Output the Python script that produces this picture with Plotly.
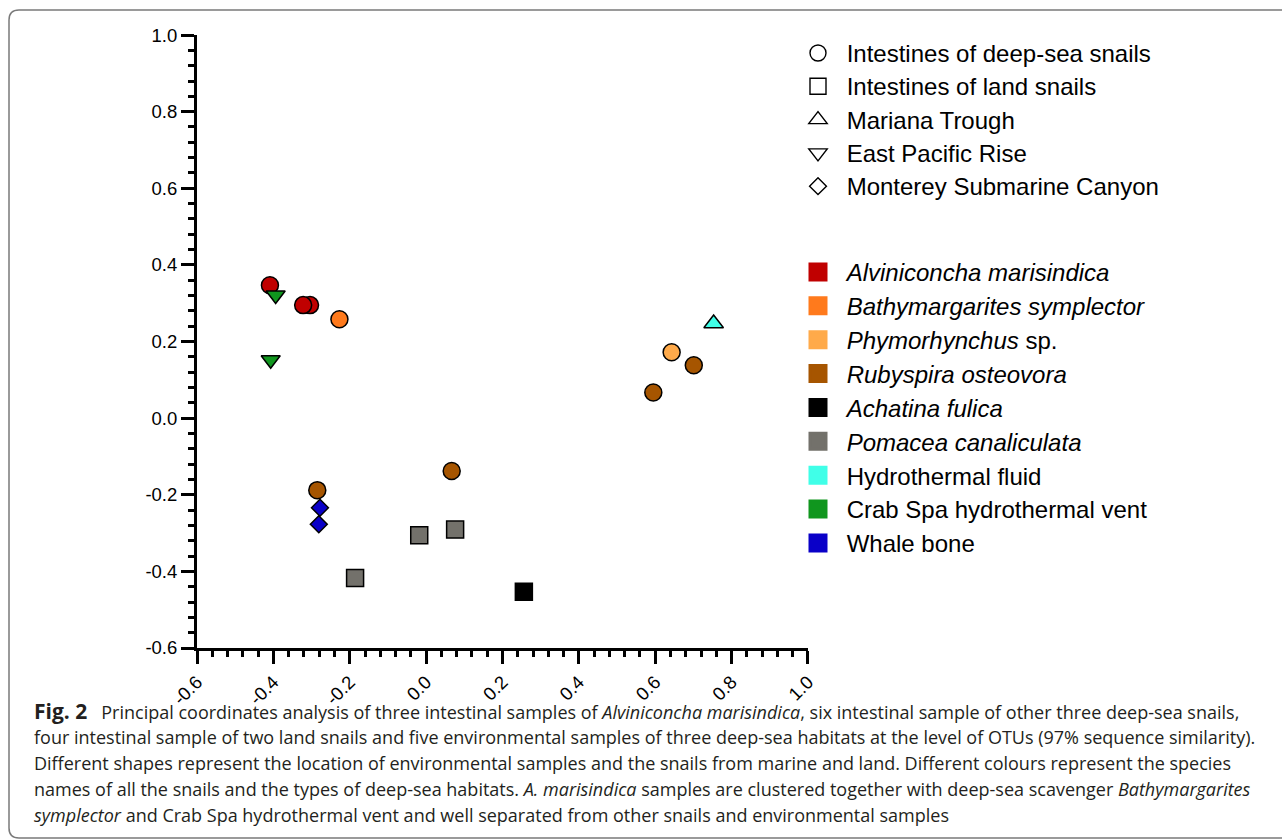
import plotly.graph_objects as go

# ---------------- data ----------------
species = [
    "Alviniconcha marisindica",
    "Bathymargarites symplector",
    "Phymorhynchus sp.",
    "Rubyspira osteovora",
    "Achatina fulica",
    "Pomacea canaliculata",
    "Hydrothermal fluid",
    "Crab Spa hydrothermal vent",
    "Whale bone",
]
species_legend = [
    "<i>Alviniconcha marisindica</i>",
    "<i>Bathymargarites symplector</i>",
    "<i>Phymorhynchus</i> sp.",
    "<i>Rubyspira osteovora</i>",
    "<i>Achatina fulica</i>",
    "<i>Pomacea canaliculata</i>",
    "Hydrothermal fluid",
    "Crab Spa hydrothermal vent",
    "Whale bone",
]
locations = [
    "Intestines of deep-sea snails",
    "Intestines of land snails",
    "Mariana Trough",
    "East Pacific Rise",
    "Monterey Submarine Canyon",
]

sample_species = [
    "Alviniconcha marisindica", "Alviniconcha marisindica", "Alviniconcha marisindica",
    "Bathymargarites symplector",
    "Phymorhynchus sp.",
    "Rubyspira osteovora", "Rubyspira osteovora", "Rubyspira osteovora", "Rubyspira osteovora",
    "Achatina fulica",
    "Pomacea canaliculata", "Pomacea canaliculata", "Pomacea canaliculata",
    "Hydrothermal fluid",
    "Crab Spa hydrothermal vent", "Crab Spa hydrothermal vent",
    "Whale bone", "Whale bone",
]
sample_location = [
    "Intestines of deep-sea snails", "Intestines of deep-sea snails", "Intestines of deep-sea snails",
    "Intestines of deep-sea snails",
    "Intestines of deep-sea snails",
    "Intestines of deep-sea snails", "Intestines of deep-sea snails", "Intestines of deep-sea snails", "Intestines of deep-sea snails",
    "Intestines of land snails",
    "Intestines of land snails", "Intestines of land snails", "Intestines of land snails",
    "Mariana Trough",
    "East Pacific Rise", "East Pacific Rise",
    "Monterey Submarine Canyon", "Monterey Submarine Canyon",
]
pc1 = [-0.409, -0.304, -0.322,
       -0.227,
       0.643,
       -0.285, 0.067, 0.595, 0.701,
       0.256,
       -0.186, -0.018, 0.076,
       0.753,
       -0.394, -0.407,
       -0.278, -0.281]
pc2 = [0.347, 0.295, 0.295,
       0.258,
       0.172,
       -0.188, -0.138, 0.067, 0.138,
       -0.453,
       -0.417, -0.306, -0.291,
       0.247,
       0.321, 0.152,
       -0.234, -0.277]

axis_ticks = [-0.6, -0.4, -0.2, 0.0, 0.2, 0.4, 0.6, 0.8, 1.0]
axis_ticklabels = ["-0.6", "-0.4", "-0.2", "0.0", "0.2", "0.4", "0.6", "0.8", "1.0"]

caption_lines = [
    '<span style="font-size:21px"><b>Fig. 2</b></span>\u00a0\u00a0 Principal coordinates analysis of three intestinal samples of <i>Alviniconcha marisindica</i>, six intestinal sample of other three deep-sea snails,',
    "four intestinal sample of two land snails and five environmental samples of three deep-sea habitats at the level of OTUs (97% sequence similarity).",
    "Different shapes represent the location of environmental samples and the snails from marine and land. Different colours represent the species",
    "names of all the snails and the types of deep-sea habitats. <i>A. marisindica</i> samples are clustered together with deep-sea scavenger <i>Bathymargarites</i>",
    "<i>symplector</i> and Crab Spa hydrothermal vent and well separated from other snails and environmental samples",
]

# ---------------- styles ----------------
species_colors = {
    "Alviniconcha marisindica": "#C00000",
    "Bathymargarites symplector": "#FF7A1C",
    "Phymorhynchus sp.": "#FFAA4A",
    "Rubyspira osteovora": "#A65500",
    "Achatina fulica": "#000000",
    "Pomacea canaliculata": "#73716B",
    "Hydrothermal fluid": "#40FFE8",
    "Crab Spa hydrothermal vent": "#10961E",
    "Whale bone": "#0A00C8",
}
location_symbols = {
    "Intestines of deep-sea snails": "circle",
    "Intestines of land snails": "square",
    "Mariana Trough": "triangle-up",
    "East Pacific Rise": "triangle-down",
    "Monterey Submarine Canyon": "diamond",
}
symbol_sizes = {"circle": 17, "square": 17, "triangle-up": 17, "triangle-down": 16.5, "diamond": 13}
legend_symbol_sizes = {"circle": 16, "square": 16, "triangle-up": 16, "triangle-down": 16, "diamond": 13}

W, H = 1282, 839
ML, MR, MT, MB = 197, 474, 35, 191
PW, PH = W - ML - MR, H - MT - MB
FONT = "Liberation Sans, Arial, Helvetica, sans-serif"


def px_x(px):
    return (px - ML) / PW


def px_y(py):
    return (H - MB - py) / PH


fig = go.Figure()

# data traces, one per species
for sp in species:
    idx = [i for i, s in enumerate(sample_species) if s == sp]
    syms = [location_symbols[sample_location[i]] for i in idx]
    fig.add_trace(go.Scatter(
        x=[pc1[i] for i in idx],
        y=[pc2[i] for i in idx],
        mode="markers",
        showlegend=False,
        marker=dict(
            symbol=syms,
            size=[symbol_sizes[s] for s in syms],
            color=species_colors[sp],
            opacity=1,
            line=dict(color="black", width=1.5),
        ),
        name=sp,
    ))

# shape legend
for loc in locations:
    sym = location_symbols[loc]
    fig.add_trace(go.Scatter(
        x=[None], y=[None], mode="markers", legend="legend",
        name='<span style="font-size:24px">\u00a0' + loc + "</span>",
        marker=dict(symbol=sym, size=legend_symbol_sizes[sym], color="white",
                    line=dict(color="black", width=1.4)),
    ))

# colour legend
for sp, lab in zip(species, species_legend):
    fig.add_trace(go.Scatter(
        x=[None], y=[None], mode="markers", legend="legend2",
        name='<span style="font-size:24px">\u00a0' + lab + "</span>",
        marker=dict(symbol="square", size=16, color=species_colors[sp],
                    line=dict(color=species_colors[sp], width=3)),
    ))

axis_common = dict(
    tickmode="array",
    tickvals=axis_ticks,
    ticktext=axis_ticklabels,
    showline=True,
    linecolor="black",
    linewidth=3,
    ticks="outside",
    ticklen=13,
    tickwidth=3,
    tickcolor="black",
    showgrid=False,
    zeroline=False,
    tickfont=dict(family=FONT, size=18.5, color="black"),
    minor=dict(tick0=-0.6, dtick=0.04, ticks="outside", ticklen=6, tickwidth=2.5, tickcolor="black", showgrid=False),
)

legend_common = dict(
    xanchor="left", yanchor="top",
    bgcolor="rgba(0,0,0,0)", borderwidth=0, itemclick=False, itemwidth=34,
)

fig.update_layout(
    width=W, height=H,
    margin=dict(l=ML, r=MR, t=MT, b=MB, pad=0, autoexpand=False),
    paper_bgcolor="white",
    plot_bgcolor="white",
    xaxis=dict(range=[-0.6, 1.0001], tickangle=-45, **axis_common),
    yaxis=dict(range=[-0.6, 1.0001], **axis_common),
    legend=dict(x=px_x(796), y=px_y(31.35),
                font=dict(family=FONT, size=23.3, color="black"), **legend_common),
    legend2=dict(x=px_x(796), y=px_y(250.06),
                 font=dict(family=FONT, size=23.75, color="black"), **legend_common),
    showlegend=True,
)

# rounded border frame of the figure panel
x0, y0, x1, y1, r = 9, 10, 1300, 838, 10
path = (
    f"M {px_x(x1)},{px_y(y0)} L {px_x(x0 + r)},{px_y(y0)} "
    f"Q {px_x(x0)},{px_y(y0)} {px_x(x0)},{px_y(y0 + r)} "
    f"L {px_x(x0)},{px_y(y1 - r)} "
    f"Q {px_x(x0)},{px_y(y1)} {px_x(x0 + r)},{px_y(y1)} "
    f"L {px_x(x1)},{px_y(y1)}"
)
fig.add_shape(type="path", path=path, xref="paper", yref="paper",
              line=dict(color="#7a7a7a", width=1.5), layer="below")

# caption
cap_y = [711, 737, 763, 789, 815]
for line, cy in zip(caption_lines, cap_y):
    fig.add_annotation(
        text=line, xref="paper", yref="paper",
        x=px_x(32), y=px_y(cy), xanchor="left", yanchor="middle",
        showarrow=False,
        font=dict(family="Open Sans, Noto Sans, sans-serif", size=18, color="#231F20"),
    )

fig.write_html("out.html")
